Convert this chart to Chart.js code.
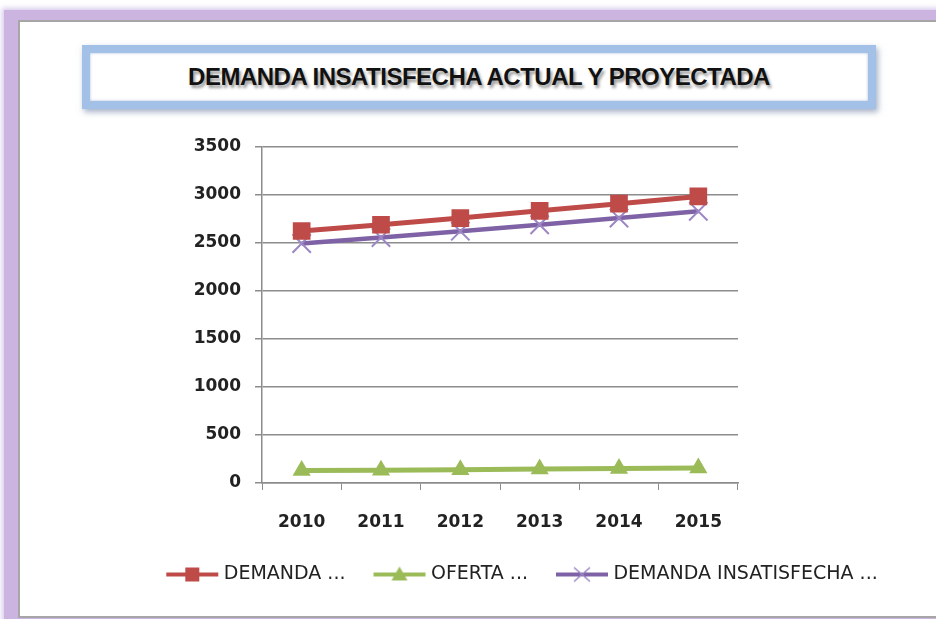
<!DOCTYPE html>
<html>
<head>
<meta charset="utf-8">
<title>Demanda insatisfecha actual y proyectada</title>
<script src="https://cdn.jsdelivr.net/npm/chart.js@4/dist/chart.umd.min.js"></script>
<style>
    html, body {
        margin: 0;
        padding: 0;
        width: 936px;
        height: 619px;
        overflow: hidden;
        background: #ffffff;
    }
    .frame {
        position: absolute;
        left: 4px;
        top: 10px;
        width: 1000px;
        height: 640px;
        background: #cbb4e0;
        box-shadow: 0 0 5px 2px rgba(200, 180, 228, 0.7);
    }
    .inner {
        position: absolute;
        left: 18px;
        top: 20px;
        width: 1000px;
        height: 594px;
        border: 2px solid #a6a6a6;
        background: #ffffff;
    }
    .title-box {
        position: absolute;
        left: 82px;
        top: 45px;
        width: 778px;
        height: 48px;
        border: 8px solid #a3c0e6;
        box-shadow: 2px 3px 6px rgba(90, 110, 150, 0.55), inset 0 0 3px rgba(120, 150, 200, 0.6);
        background: #ffffff;
        text-align: center;
        line-height: 48px;
        font-family: "Liberation Sans Narrow", "Liberation Sans", sans-serif;
        font-weight: bold;
        font-size: 24px;
        color: #111111;
        text-shadow: 2px 3px 3px rgba(0, 0, 0, 0.4);
        letter-spacing: -0.5px;
    }
    #chart {
        position: absolute;
        left: 0;
        top: 0;
    }
</style>
</head>
<body>
<div class="frame"></div>
<div class="inner"></div>
<div class="title-box">DEMANDA INSATISFECHA ACTUAL Y PROYECTADA</div>
<canvas id="chart" width="936" height="619"></canvas>
<script>
// Data
const YEARS = ['2010', '2011', '2012', '2013', '2014', '2015'];
const DEMANDA = [2625, 2690, 2760, 2835, 2910, 2985];
const OFERTA = [130, 133, 137, 145, 150, 155];
const INSATISFECHA = [2495, 2557, 2623, 2690, 2760, 2830];
const Y_TICKS = [0, 500, 1000, 1500, 2000, 2500, 3000, 3500];

const SERIES_NAMES = ['DEMANDA ...', 'OFERTA ...', 'DEMANDA INSATISFECHA ...'];
const SERIES_COLORS = ['#be4b48', '#9bbb59', '#7e62a5'];

const TICK_FONT = { family: '"DejaVu Sans", sans-serif', size: 17, weight: 'bold' };
const LEGEND_FONT = { family: '"DejaVu Sans", sans-serif', size: 19 };

// Small line + marker icon for the legend, like the spreadsheet legend
function legendIcon(color, marker) {
    const c = document.createElement('canvas');
    c.width = 54;
    c.height = 22;
    const g = c.getContext('2d');
    g.strokeStyle = color;
    g.fillStyle = color;
    g.lineWidth = 4;
    g.beginPath();
    g.moveTo(1, 11);
    g.lineTo(53, 11);
    g.stroke();
    if (marker === 'rect') {
        g.fillRect(20, 4, 14, 14);
    } else if (marker === 'triangle') {
        g.beginPath();
        g.moveTo(27, 3);
        g.lineTo(35, 17);
        g.lineTo(19, 17);
        g.closePath();
        g.fill();
    } else {
        g.strokeStyle = '#9c86c4';
        g.lineWidth = 1.5;
        g.beginPath();
        g.moveTo(19, 4);
        g.lineTo(35, 18);
        g.moveTo(35, 4);
        g.lineTo(19, 18);
        g.stroke();
    }
    return c;
}

const ICONS = [
    legendIcon(SERIES_COLORS[0], 'rect'),
    legendIcon(SERIES_COLORS[1], 'triangle'),
    legendIcon(SERIES_COLORS[2], 'cross')
];

const ctx = document.getElementById('chart');

new Chart(ctx, {
    type: 'line',
    data: {
        labels: YEARS,
        datasets: [
            {
                label: SERIES_NAMES[0],
                data: DEMANDA,
                borderColor: SERIES_COLORS[0],
                backgroundColor: SERIES_COLORS[0],
                borderWidth: 5,
                pointStyle: 'rect',
                pointRadius: 12.5,
                pointBorderWidth: 0,
                pointBackgroundColor: SERIES_COLORS[0],
                tension: 0
            },
            {
                label: SERIES_NAMES[1],
                data: OFERTA,
                borderColor: SERIES_COLORS[1],
                backgroundColor: SERIES_COLORS[1],
                borderWidth: 5,
                pointStyle: 'triangle',
                pointRadius: 10.5,
                pointBorderWidth: 0,
                pointBackgroundColor: SERIES_COLORS[1],
                tension: 0
            },
            {
                label: SERIES_NAMES[2],
                data: INSATISFECHA,
                borderColor: SERIES_COLORS[2],
                backgroundColor: SERIES_COLORS[2],
                borderWidth: 4.5,
                pointStyle: 'crossRot',
                pointRadius: 13,
                pointBorderWidth: 2,
                pointBorderColor: '#9c86c4',
                tension: 0
            }
        ]
    },
    options: {
        responsive: false,
        animation: false,
        layout: {
            padding: { left: 112, right: 0, top: 147, bottom: 25 }
        },
        plugins: {
            title: { display: false },
            tooltip: { enabled: false },
            legend: {
                position: 'bottom',
                labels: {
                    font: LEGEND_FONT,
                    color: '#222222',
                    usePointStyle: true,
                    pointStyleWidth: 44,
                    boxHeight: 19,
                    padding: 32,
                    generateLabels: function(chart) {
                        return chart.data.datasets.map((ds, i) => ({
                            text: ds.label,
                            pointStyle: ICONS[i],
                            fillStyle: ds.borderColor,
                            strokeStyle: ds.borderColor,
                            lineWidth: 0,
                            fontColor: '#222222',
                            datasetIndex: i,
                            hidden: false
                        }));
                    }
                }
            }
        },
        scales: {
            x: {
                offset: true,
                grid: {
                    offset: true,
                    drawOnChartArea: false,
                    drawTicks: true,
                    tickLength: 7,
                    color: '#8c8c8c'
                },
                border: { color: '#8c8c8c', width: 1.5 },
                ticks: {
                    font: TICK_FONT,
                    color: '#222222',
                    padding: 22,
                    maxRotation: 0
                },
                afterFit: function(scale) {
                    scale.height = 50;
                }
            },
            y: {
                min: 0,
                max: 3500,
                afterBuildTicks: function(scale) {
                    scale.ticks = Y_TICKS.map(v => ({ value: v }));
                },
                grid: {
                    color: '#8c8c8c',
                    lineWidth: 1.5,
                    tickLength: 7
                },
                border: { color: '#8c8c8c', width: 1.5 },
                ticks: {
                    font: TICK_FONT,
                    color: '#222222',
                    padding: 14,
                    callback: function(value) {
                        return String(value);
                    }
                },
                afterFit: function(scale) {
                    scale.width = 150;
                }
            },
            yRight: {
                position: 'right',
                display: true,
                grid: { display: false, drawTicks: false },
                border: { display: false },
                ticks: { display: false },
                afterFit: function(scale) {
                    scale.width = 198;
                }
            }
        }
    }
});
</script>
</body>
</html>
